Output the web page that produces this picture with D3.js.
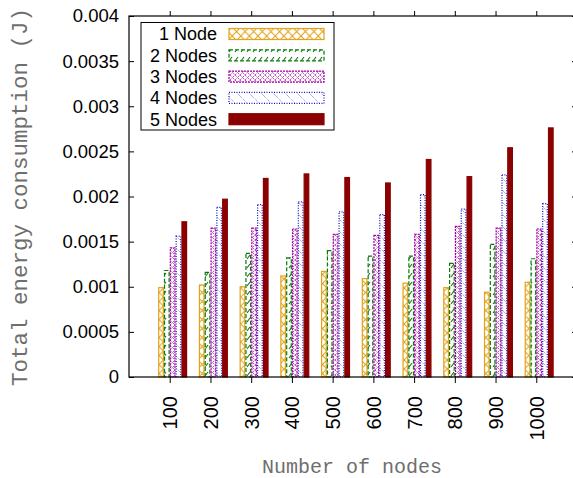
<!DOCTYPE html>
<html>
<head>
<meta charset="utf-8">
<script src="https://cdn.jsdelivr.net/npm/d3@7"></script>
<style>
  html, body { margin: 0; padding: 0; background: #fff; }
  svg { display: block; }
  .tick-label { font-family: "Liberation Sans", Arial, sans-serif; font-size: 18.5px; fill: #000; }
  .xtick-label { font-family: "Liberation Sans", Arial, sans-serif; font-size: 20px; fill: #000; }
  .axis-title { font-family: "Courier New", "Liberation Mono", monospace; font-size: 20px; fill: #6e6e6e; }
  .legend-text { font-family: "Liberation Sans", Arial, sans-serif; font-size: 18px; fill: #000; }
</style>
</head>
<body>
<svg id="chart" width="573" height="478"></svg>
<script>
// Number of nodes in the network (x categories)
const categories = ["100", "200", "300", "400", "500", "600", "700", "800", "900", "1000"];

// Series labels
const seriesNames = ["1 Node", "2 Nodes", "3 Nodes", "4 Nodes", "5 Nodes"];

// Total energy consumption (J) per series
const node1 = [0.00099, 0.00102, 0.00100, 0.00112, 0.00117, 0.00109, 0.00104, 0.00099, 0.00094, 0.00105];
const node2 = [0.00118, 0.00116, 0.00137, 0.00132, 0.00140, 0.00134, 0.00134, 0.00126, 0.00147, 0.00131];
const node3 = [0.00143, 0.00165, 0.00165, 0.00164, 0.00158, 0.00157, 0.00158, 0.00167, 0.00165, 0.00164];
const node4 = [0.00156, 0.00188, 0.00191, 0.00194, 0.00183, 0.00180, 0.00202, 0.00186, 0.00224, 0.00192];
const node5 = [0.00172, 0.00197, 0.00220, 0.00225, 0.00221, 0.00215, 0.00241, 0.00222, 0.00254, 0.00276];

// Y tick labels
const yTickValues = [0, 0.0005, 0.001, 0.0015, 0.002, 0.0025, 0.003, 0.0035, 0.004];
const yTickLabels = ["0", "0.0005", "0.001", "0.0015", "0.002", "0.0025", "0.003", "0.0035", "0.004"];

const allSeries = [node1, node2, node3, node4, node5];

// Visual style for each series: colour, outline dash, fill pattern
const styles = [
  { color: "#e3a21a", dash: null,    fill: "url(#pat-cross)" },
  { color: "#0a7a0a", dash: "4,2",   fill: "url(#pat-slash)" },
  { color: "#a400a4", dash: "2,1",   fill: "url(#pat-dense)" },
  { color: "#1010c8", dash: "1,1.5", fill: "url(#pat-back)" },
  { color: "#8b0000", dash: null,    fill: "#8b0000" }
];

const svg = d3.select("#chart");
const plot = { left: 129, right: 577, top: 16, bottom: 377 };

const x = d3.scaleLinear().domain([-1, 10]).range([plot.left, plot.right]);
const y = d3.scaleLinear().domain([0, 0.004]).range([plot.bottom, plot.top]);

// Fill patterns
const defs = svg.append("defs");
const pCross = defs.append("pattern").attr("id", "pat-cross")
  .attr("patternUnits", "userSpaceOnUse").attr("width", 8.6).attr("height", 9);
pCross.append("path").attr("d", "M0,0L8.6,9M0,9L8.6,0")
  .attr("stroke", styles[0].color).attr("stroke-width", 1.1).attr("fill", "none");

const pSlash = defs.append("pattern").attr("id", "pat-slash")
  .attr("patternUnits", "userSpaceOnUse").attr("width", 6).attr("height", 9);
pSlash.append("path").attr("d", "M1,7L4,3")
  .attr("stroke", styles[1].color).attr("stroke-width", 1.1).attr("fill", "none");

const pDense = defs.append("pattern").attr("id", "pat-dense")
  .attr("patternUnits", "userSpaceOnUse").attr("width", 5).attr("height", 5);
pDense.append("path").attr("d", "M0,0L5,5M0,5L5,0")
  .attr("stroke", styles[2].color).attr("stroke-width", 0.8).attr("fill", "none")
  .attr("stroke-dasharray", "1.2,1");

const pBack = defs.append("pattern").attr("id", "pat-back")
  .attr("patternUnits", "userSpaceOnUse").attr("width", 12).attr("height", 12);
pBack.append("path").attr("d", "M0,0L12,12M-6,6L6,18M6,-6L18,6")
  .attr("stroke", "#6a6ae0").attr("stroke-width", 0.8).attr("fill", "none")
  .attr("stroke-dasharray", "1,1");

// Bars: 5 per group, each 1/7 of a category unit
const barUnit = 1 / 7;
const barW = x(barUnit) - x(0);
const barData = [];
allSeries.forEach((vals, j) => {
  vals.forEach((v, i) => barData.push({ i, j, v }));
});

svg.append("g").selectAll("rect")
  .data(barData)
  .join("rect")
  .attr("x", d => x(d.i - 2 * barUnit + d.j * barUnit) + 0.6)
  .attr("y", d => y(d.v))
  .attr("width", barW - 1.2)
  .attr("height", d => y(0) - y(d.v))
  .attr("fill", d => styles[d.j].fill)
  .attr("stroke", d => styles[d.j].color)
  .attr("stroke-width", 1.2)
  .attr("stroke-dasharray", d => styles[d.j].dash);

// Axes
const yAxis = d3.axisLeft(y).tickValues(yTickValues)
  .tickFormat((d, k) => yTickLabels[k]).tickSize(-5).tickPadding(10);
const gy = svg.append("g").attr("transform", `translate(${plot.left},0)`).call(yAxis);
gy.select(".domain").remove();
gy.selectAll("text").attr("class", "tick-label").attr("font-size", null).attr("font-family", null);

// Mirrored y ticks on the right border
svg.append("g").attr("transform", `translate(${plot.right},0)`)
  .call(d3.axisRight(y).tickValues(yTickValues).tickSize(-5).tickFormat(""))
  .select(".domain").remove();

const xAxis = d3.axisBottom(x).tickValues(d3.range(categories.length))
  .tickFormat(i => categories[i]).tickSize(6);
const gx = svg.append("g").attr("transform", `translate(0,${plot.bottom})`).call(xAxis);
gx.select(".domain").remove();
gx.selectAll("text")
  .attr("class", "xtick-label").attr("font-size", null).attr("font-family", null)
  .attr("transform", "rotate(-90)")
  .attr("x", -19).attr("y", 0).attr("dy", "0.35em")
  .attr("text-anchor", "end");

// Mirrored x ticks on the top border
svg.append("g").attr("transform", `translate(0,${plot.top})`)
  .call(d3.axisTop(x).tickValues(d3.range(categories.length)).tickSize(5).tickFormat(""))
  .select(".domain").remove();

// Frame
svg.append("rect")
  .attr("x", plot.left).attr("y", plot.top)
  .attr("width", plot.right - plot.left).attr("height", plot.bottom - plot.top)
  .attr("fill", "none").attr("stroke", "#000").attr("stroke-width", 1.2);

// Axis titles
svg.append("text").attr("class", "axis-title")
  .attr("x", 352).attr("y", 473).attr("text-anchor", "middle")
  .text("Number of nodes");
svg.append("text").attr("class", "axis-title")
  .attr("transform", "translate(27,197) rotate(-90)")
  .attr("text-anchor", "middle")
  .style("font-size", "22.5px")
  .text("Total energy consumption (J)");

// Legend
const legend = svg.append("g");
legend.append("rect")
  .attr("x", 141).attr("y", 22.5).attr("width", 193).attr("height", 107.5)
  .attr("fill", "#fff").attr("stroke", "#000").attr("stroke-width", 1);
seriesNames.forEach((name, j) => {
  const cy = 34 + j * 21.3;
  legend.append("text").attr("class", "legend-text")
    .attr("x", 217).attr("y", cy).attr("dy", "0.35em").attr("text-anchor", "end")
    .text(name);
  legend.append("rect")
    .attr("x", 229).attr("y", cy - 5.5).attr("width", 95).attr("height", 11)
    .attr("fill", styles[j].fill)
    .attr("stroke", styles[j].color).attr("stroke-width", 1.2)
    .attr("stroke-dasharray", styles[j].dash);
});
</script>
</body>
</html>
